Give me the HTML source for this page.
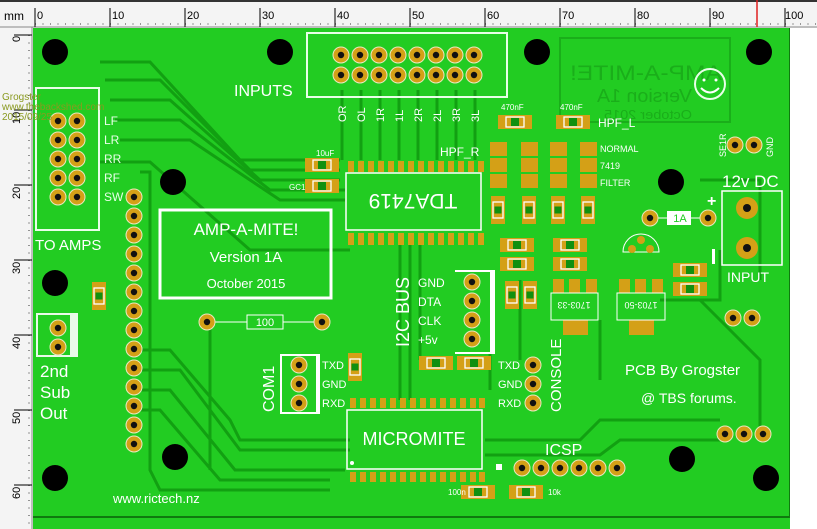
<!DOCTYPE html>
<html><head><meta charset="utf-8"><style>
html,body{margin:0;padding:0;background:#fff}
svg{display:block}
text{font-family:"Liberation Sans",sans-serif}
</style></head><body>
<svg width="817" height="529" viewBox="0 0 817 529" xmlns="http://www.w3.org/2000/svg">
<defs>
<g id="pin"><circle r="8" fill="#d4a017" stroke="#e8e8c0" stroke-width="1"/><circle r="3.2" fill="#111"/></g>
<g id="hcap"><rect x="-17" y="-7" width="34" height="14" fill="#d4a017"/><rect x="-9" y="-5" width="18" height="10" fill="none" stroke="#fff" stroke-width="1.3"/><rect x="-4" y="-4" width="8" height="8" fill="#109010"/></g>
<g id="vcap"><rect x="-7" y="-14" width="14" height="28" fill="#d4a017"/><rect x="-5" y="-8" width="10" height="16" fill="none" stroke="#fff" stroke-width="1.3"/><rect x="-3.5" y="-3.5" width="7" height="7" fill="#109010"/></g>
</defs>
<rect x="0" y="0" width="817" height="529" fill="#f4f4f4"/>
<rect x="0" y="0" width="817" height="2" fill="#333"/>
<line x1="0" y1="27" x2="817" y2="27" stroke="#888"/>
<line x1="32" y1="27" x2="32" y2="529" stroke="#888"/>
<text x="4" y="20" font-size="12" fill="#000">mm</text>
<g font-size="11" fill="#000">
<text x="37" y="19">0</text><text x="112" y="19">10</text><text x="187" y="19">20</text><text x="262" y="19">30</text><text x="337" y="19">40</text><text x="412" y="19">50</text><text x="487" y="19">60</text><text x="562" y="19">70</text><text x="637" y="19">80</text><text x="712" y="19">90</text><text x="785" y="19">100</text>
</g>
<g stroke="#000" stroke-width="1">
<path d="M35 8V27M110 8V27M185 8V27M260 8V27M335 8V27M410 8V27M485 8V27M560 8V27M635 8V27M710 8V27M785 8V27"/>
</g>
<g stroke="#000" stroke-width="0.8" stroke-dasharray="1 6.5"><line x1="35" y1="24" x2="817" y2="24"/><line x1="29" y1="35" x2="29" y2="529"/></g>
<line x1="757" y1="0" x2="757" y2="27" stroke="#e02020" stroke-width="1.5"/>
<g stroke="#000"><path d="M14 35H32M14 110H32M14 185H32M14 260H32M14 335H32M14 410H32M14 485H32"/></g>
<g font-size="11" fill="#000">
<text transform="translate(20,42) rotate(-90)">0</text><text transform="translate(20,124) rotate(-90)">10</text><text transform="translate(20,199) rotate(-90)">20</text><text transform="translate(20,274) rotate(-90)">30</text><text transform="translate(20,349) rotate(-90)">40</text><text transform="translate(20,424) rotate(-90)">50</text><text transform="translate(20,499) rotate(-90)">60</text>
</g>
<rect x="33" y="28" width="757" height="501" fill="#22cc22"/>
<line x1="33" y1="517" x2="790" y2="517" stroke="#0f7a0f" stroke-width="2"/>
<line x1="790" y1="28" x2="790" y2="517" stroke="#0f7a0f" stroke-width="2"/>
<rect x="790" y="28" width="27" height="501" fill="#fff"/>
<g fill="none" stroke="#12a012" stroke-width="3">
<path d="M100 62H150L240 160H340"/><path d="M105 80H160L250 170H340"/><path d="M110 100H170L260 180H340"/>
<path d="M115 120H180L270 190H345"/><path d="M120 140H190L280 200H345"/>
<path d="M100 162H150L250 250H350"/><path d="M140 172H150V470L160 490H330"/>
<path d="M135 350H170L230 420L240 440H350"/><path d="M135 370H180L240 450H350"/><path d="M135 390H170L235 470H345"/>
<path d="M135 410H160L220 480H330"/><path d="M485 440H580L600 420H720"/><path d="M485 455H600L620 440H720"/>
<path d="M400 245V400"/><path d="M410 245V400"/><path d="M420 245V360"/><path d="M490 350V390"/>
<path d="M520 280V360"/><path d="M600 320V380"/><path d="M700 300L760 360V430"/>
<path d="M342 90V160"/><path d="M361 90V160"/><path d="M380 90V160"/><path d="M399 90V160"/><path d="M418 90V160"/><path d="M437 90V160"/><path d="M456 90V160"/><path d="M475 90V160"/>
<path d="M210 322V470"/><path d="M700 180H760V280"/><path d="M660 300H720V250"/>
</g>
<g fill="#1aae1a">
<rect x="560" y="38" width="170" height="84" fill="none" stroke="#1aae1a" stroke-width="2"/>
<text transform="translate(722,80) scale(-1,1)" font-size="21" textLength="152" lengthAdjust="spacingAndGlyphs">AMP-A-MITE!</text>
<text transform="translate(692,102) scale(-1,1)" font-size="18" textLength="95" lengthAdjust="spacingAndGlyphs">Version 1A</text>
<text transform="translate(692,119) scale(-1,1)" font-size="13" textLength="88" lengthAdjust="spacingAndGlyphs">October 2015</text>
</g>
<circle cx="710" cy="84" r="15" fill="none" stroke="#e8ffe8" stroke-width="2"/>
<circle cx="704" cy="80" r="1.5" fill="#fff"/><circle cx="716" cy="80" r="1.5" fill="#fff"/>
<path d="M701 88Q710 97 719 88" fill="none" stroke="#fff" stroke-width="2"/>
<g fill="#000"><circle cx="55" cy="52" r="13"/><circle cx="280" cy="52" r="13"/><circle cx="537" cy="52" r="13"/><circle cx="759" cy="52" r="13"/><circle cx="173" cy="182" r="13"/><circle cx="671" cy="182" r="13"/><circle cx="55" cy="283" r="13"/><circle cx="175" cy="457" r="13"/><circle cx="55" cy="478" r="13"/><circle cx="682" cy="459" r="13"/><circle cx="766" cy="478" r="13"/></g>
<rect x="307" y="33" width="200" height="64" fill="none" stroke="#e8ffe8" stroke-width="2"/>
<g><use href="#pin" x="341" y="55"/><use href="#pin" x="360" y="55"/><use href="#pin" x="379" y="55"/><use href="#pin" x="398" y="55"/><use href="#pin" x="417" y="55"/><use href="#pin" x="436" y="55"/><use href="#pin" x="455" y="55"/><use href="#pin" x="474" y="55"/>
<use href="#pin" x="341" y="75"/><use href="#pin" x="360" y="75"/><use href="#pin" x="379" y="75"/><use href="#pin" x="398" y="75"/><use href="#pin" x="417" y="75"/><use href="#pin" x="436" y="75"/><use href="#pin" x="455" y="75"/><use href="#pin" x="474" y="75"/></g>
<text x="234" y="96" font-size="16" fill="#fff">INPUTS</text>
<g font-size="11" fill="#fff">
<text transform="translate(346,122) rotate(-90)">OR</text><text transform="translate(365,122) rotate(-90)">OL</text><text transform="translate(384,122) rotate(-90)">1R</text><text transform="translate(403,122) rotate(-90)">1L</text><text transform="translate(422,122) rotate(-90)">2R</text><text transform="translate(441,122) rotate(-90)">2L</text><text transform="translate(460,122) rotate(-90)">3R</text><text transform="translate(479,122) rotate(-90)">3L</text>
</g>
<rect x="36" y="88" width="63" height="142" fill="none" stroke="#e8ffe8" stroke-width="2"/>
<g><use href="#pin" x="58" y="121"/><use href="#pin" x="77" y="121"/><use href="#pin" x="58" y="140"/><use href="#pin" x="77" y="140"/><use href="#pin" x="58" y="159"/><use href="#pin" x="77" y="159"/><use href="#pin" x="58" y="178"/><use href="#pin" x="77" y="178"/><use href="#pin" x="58" y="197"/><use href="#pin" x="77" y="197"/></g>
<g font-size="12" fill="#e8ffe8"><text x="104" y="125">LF</text><text x="104" y="144">LR</text><text x="104" y="163">RR</text><text x="104" y="182">RF</text><text x="104" y="201">SW</text></g>
<text x="35" y="250" font-size="15" fill="#fff">TO AMPS</text>
<g font-size="10" fill="#8a9a20"><text x="2" y="100">Grogster</text><text x="2" y="110">www.thebackshed.com</text><text x="2" y="120">2015/09/25</text></g>
<g><use href="#pin" x="134" y="197"/><use href="#pin" x="134" y="216"/><use href="#pin" x="134" y="235"/><use href="#pin" x="134" y="254"/><use href="#pin" x="134" y="273"/><use href="#pin" x="134" y="292"/><use href="#pin" x="134" y="311"/><use href="#pin" x="134" y="330"/><use href="#pin" x="134" y="349"/><use href="#pin" x="134" y="368"/><use href="#pin" x="134" y="387"/><use href="#pin" x="134" y="406"/><use href="#pin" x="134" y="425"/><use href="#pin" x="134" y="444"/></g>
<rect x="160" y="210" width="171" height="88" fill="none" stroke="#fff" stroke-width="3"/>
<text x="246" y="235" font-size="17" fill="#fff" text-anchor="middle">AMP-A-MITE!</text>
<text x="246" y="262" font-size="15" fill="#fff" text-anchor="middle">Version 1A</text>
<text x="246" y="288" font-size="13" fill="#fff" text-anchor="middle">October 2015</text>
<line x1="207" y1="322" x2="322" y2="322" stroke="#fff"/>
<rect x="247" y="315" width="36" height="14" fill="#22cc22" stroke="#fff"/>
<text x="265" y="326" font-size="11" fill="#fff" text-anchor="middle">100</text>
<use href="#pin" x="207" y="322"/><use href="#pin" x="322" y="322"/>
<use href="#vcap" x="99" y="296"/>
<rect x="36" y="313" width="42" height="44" fill="#fff" opacity="0.9"/>
<rect x="38" y="315" width="32" height="40" fill="#22cc22"/>
<use href="#pin" x="58" y="328"/><use href="#pin" x="58" y="347"/>
<g font-size="17" fill="#fff"><text x="40" y="377">2nd</text><text x="40" y="398">Sub</text><text x="40" y="419">Out</text></g>
<text x="113" y="503" font-size="13" fill="#fff">www.rictech.nz</text>
<use href="#hcap" x="322" y="165"/><use href="#hcap" x="322" y="186"/>
<text x="316" y="156" font-size="8" fill="#fff">10uF</text><text x="289" y="190" font-size="8" fill="#fff">GC1</text>
<g fill="#d4a017"><path d="M348 161h6v11h-6zM358 161h6v11h-6zM368 161h6v11h-6zM378 161h6v11h-6zM388 161h6v11h-6zM398 161h6v11h-6zM408 161h6v11h-6zM418 161h6v11h-6zM428 161h6v11h-6zM438 161h6v11h-6zM448 161h6v11h-6zM458 161h6v11h-6zM468 161h6v11h-6zM478 161h6v11h-6z"/>
<path d="M348 233h6v12h-6zM358 233h6v12h-6zM368 233h6v12h-6zM378 233h6v12h-6zM388 233h6v12h-6zM398 233h6v12h-6zM408 233h6v12h-6zM418 233h6v12h-6zM428 233h6v12h-6zM438 233h6v12h-6zM448 233h6v12h-6zM458 233h6v12h-6zM468 233h6v12h-6zM478 233h6v12h-6z"/></g>
<rect x="346" y="173" width="135" height="57" fill="none" stroke="#fff" stroke-width="1.5"/>
<text transform="translate(413,194) rotate(180)" font-size="21" fill="#fff" text-anchor="middle">TDA7419</text>
<text x="440" y="156" font-size="12" fill="#fff">HPF_R</text>
<use href="#hcap" x="515" y="122"/><use href="#hcap" x="573" y="122"/>
<g font-size="8" fill="#fff"><text x="501" y="110">470nF</text><text x="560" y="110">470nF</text></g>
<text x="598" y="127" font-size="12" fill="#fff">HPF_L</text>
<g fill="#d4a017"><rect x="490" y="142" width="17" height="14"/><rect x="490" y="158" width="17" height="14"/><rect x="490" y="174" width="17" height="14"/>
<rect x="521" y="142" width="17" height="14"/><rect x="521" y="158" width="17" height="14"/><rect x="521" y="174" width="17" height="14"/>
<rect x="550" y="142" width="17" height="14"/><rect x="550" y="158" width="17" height="14"/><rect x="550" y="174" width="17" height="14"/>
<rect x="580" y="142" width="17" height="14"/><rect x="580" y="158" width="17" height="14"/><rect x="580" y="174" width="17" height="14"/></g>
<g font-size="9" fill="#fff"><text x="600" y="152">NORMAL</text><text x="600" y="169">7419</text><text x="600" y="186">FILTER</text></g>
<use href="#vcap" x="498" y="210"/><use href="#vcap" x="529" y="210"/><use href="#vcap" x="558" y="210"/><use href="#vcap" x="588" y="210"/>
<use href="#hcap" x="517" y="245"/><use href="#hcap" x="570" y="245"/><use href="#hcap" x="517" y="264"/><use href="#hcap" x="570" y="264"/>
<use href="#vcap" x="512" y="295"/><use href="#vcap" x="530" y="295"/>
<g fill="#d4a017"><rect x="553" y="279" width="11" height="14"/><rect x="569" y="279" width="11" height="14"/><rect x="586" y="279" width="11" height="14"/>
<rect x="619" y="279" width="11" height="14"/><rect x="635" y="279" width="11" height="14"/><rect x="652" y="279" width="11" height="14"/>
<rect x="563" y="320" width="25" height="15"/><rect x="629" y="320" width="25" height="15"/></g>
<rect x="551" y="293" width="47" height="27" fill="none" stroke="#fff"/><rect x="617" y="293" width="48" height="27" fill="none" stroke="#fff"/>
<text transform="translate(574,302) rotate(180)" font-size="9" fill="#fff" text-anchor="middle">1703-33</text>
<text transform="translate(641,302) rotate(180)" font-size="9" fill="#fff" text-anchor="middle">1703-50</text>
<use href="#hcap" x="690" y="270"/><use href="#hcap" x="690" y="289"/>
<line x1="650" y1="218" x2="708" y2="218" stroke="#fff"/>
<rect x="667" y="211" width="24" height="14" fill="#fff"/><text x="680" y="222" font-size="11" fill="#22cc22" text-anchor="middle">1A</text>
<use href="#pin" x="650" y="218"/><use href="#pin" x="708" y="218"/>
<path d="M623 252a18 18 0 0 1 36 0z" fill="none" stroke="#fff"/>
<circle cx="641" cy="240" r="4" fill="#d4a017"/><circle cx="632" cy="249" r="4" fill="#d4a017"/><circle cx="650" cy="249" r="4" fill="#d4a017"/>
<text x="722" y="187" font-size="17" fill="#fff">12v DC</text>
<text x="707" y="206" font-size="16" fill="#fff" font-weight="bold">+</text>
<rect x="712" y="249" width="3" height="15" fill="#fff"/>
<rect x="722" y="191" width="60" height="74" fill="none" stroke="#fff" stroke-width="1.5"/>
<g><circle cx="747" cy="208" r="11" fill="#d4a017"/><circle cx="747" cy="208" r="4" fill="#111"/><circle cx="747" cy="248" r="11" fill="#d4a017"/><circle cx="747" cy="248" r="4" fill="#111"/></g>
<text x="727" y="282" font-size="14" fill="#fff">INPUT</text>
<use href="#pin" x="735" y="145"/><use href="#pin" x="754" y="145"/>
<g font-size="9" fill="#fff"><text transform="translate(726,157) rotate(-90)">SE1R</text><text transform="translate(773,157) rotate(-90)">GND</text></g>
<use href="#pin" x="733" y="318"/><use href="#pin" x="752" y="318"/>
<use href="#pin" x="725" y="434"/><use href="#pin" x="744" y="434"/><use href="#pin" x="763" y="434"/>
<text x="625" y="375" font-size="15" fill="#fff">PCB By Grogster</text>
<text x="641" y="403" font-size="14" fill="#fff">@ TBS forums.</text>
<text transform="translate(409,347) rotate(-90)" font-size="18" fill="#fff">I2C BUS</text>
<g font-size="12" fill="#fff"><text x="418" y="287">GND</text><text x="418" y="306">DTA</text><text x="418" y="325">CLK</text><text x="418" y="344">+5v</text></g>
<rect x="455" y="270" width="40" height="84" fill="#fff"/><rect x="455" y="272" width="35" height="80" fill="#22cc22"/>
<use href="#pin" x="472" y="282"/><use href="#pin" x="472" y="301"/><use href="#pin" x="472" y="320"/><use href="#pin" x="472" y="339"/>
<use href="#hcap" x="436" y="363"/><use href="#hcap" x="474" y="363"/>
<rect x="280" y="354" width="40" height="60" fill="#fff"/><rect x="282" y="356" width="34" height="56" fill="#22cc22"/>
<use href="#pin" x="299" y="365"/><use href="#pin" x="299" y="384"/><use href="#pin" x="299" y="403"/>
<g font-size="11" fill="#fff"><text x="322" y="369">TXD</text><text x="322" y="388">GND</text><text x="322" y="407">RXD</text></g>
<text transform="translate(274,412) rotate(-90)" font-size="16" fill="#fff">COM1</text>
<use href="#vcap" x="355" y="367"/>
<use href="#pin" x="533" y="365"/><use href="#pin" x="533" y="384"/><use href="#pin" x="533" y="403"/>
<g font-size="11" fill="#fff"><text x="498" y="369">TXD</text><text x="498" y="388">GND</text><text x="498" y="407">RXD</text></g>
<text transform="translate(561,412) rotate(-90)" font-size="15" fill="#fff">CONSOLE</text>
<g fill="#d4a017"><path d="M350 398h6v10h-6zM360 398h6v10h-6zM370 398h6v10h-6zM380 398h6v10h-6zM390 398h6v10h-6zM400 398h6v10h-6zM410 398h6v10h-6zM420 398h6v10h-6zM430 398h6v10h-6zM440 398h6v10h-6zM450 398h6v10h-6zM460 398h6v10h-6zM470 398h6v10h-6zM479 398h6v10h-6z"/>
<path d="M350 472h6v10h-6zM360 472h6v10h-6zM370 472h6v10h-6zM380 472h6v10h-6zM390 472h6v10h-6zM400 472h6v10h-6zM410 472h6v10h-6zM420 472h6v10h-6zM430 472h6v10h-6zM440 472h6v10h-6zM450 472h6v10h-6zM460 472h6v10h-6zM470 472h6v10h-6zM479 472h6v10h-6z"/></g>
<rect x="347" y="410" width="135" height="59" fill="none" stroke="#fff" stroke-width="1.5"/>
<text x="414" y="445" font-size="18" fill="#fff" text-anchor="middle">MICROMITE</text>
<circle cx="352" cy="463" r="2" fill="#fff"/>
<text x="545" y="455" font-size="16" fill="#fff">ICSP</text>
<rect x="496" y="464" width="6" height="6" fill="#fff"/>
<use href="#pin" x="522" y="468"/><use href="#pin" x="541" y="468"/><use href="#pin" x="560" y="468"/><use href="#pin" x="579" y="468"/><use href="#pin" x="598" y="468"/><use href="#pin" x="617" y="468"/>
<use href="#hcap" x="478" y="492"/><use href="#hcap" x="526" y="492"/>
<g font-size="8" fill="#fff"><text x="448" y="495">100n</text><text x="548" y="495">10k</text></g>
</svg>
</body></html>
